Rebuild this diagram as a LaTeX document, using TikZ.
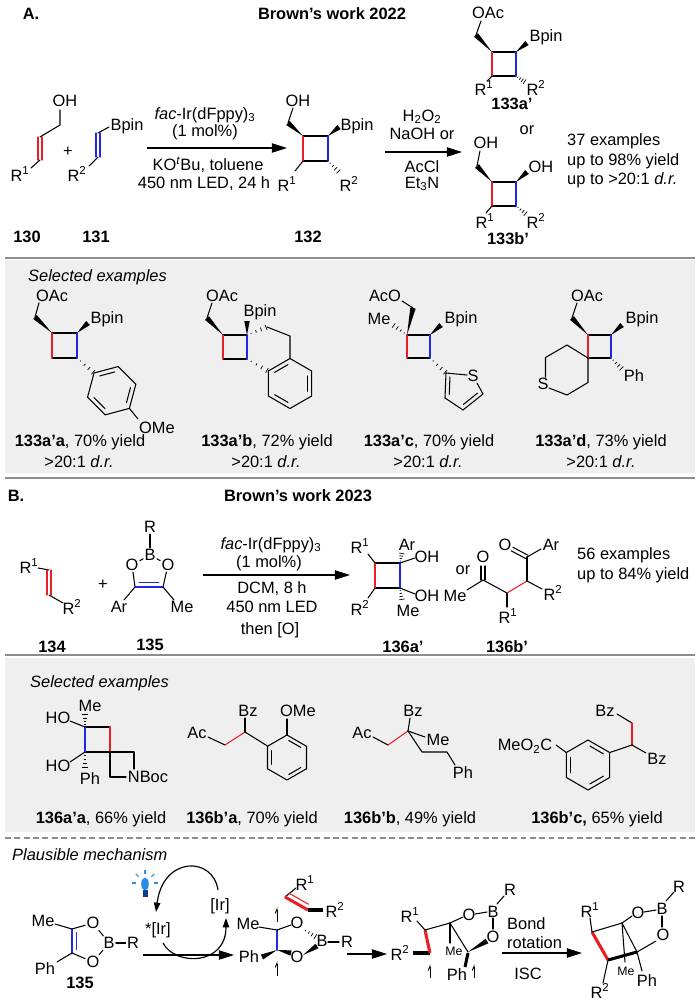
\documentclass[tikz,border=0pt]{standalone}
\usepackage{fontspec}
\setmainfont{Liberation Sans}
\usetikzlibrary{arrows.meta,calc,positioning}
\definecolor{bondred}{RGB}{235,30,35}
\definecolor{bondblue}{RGB}{30,40,230}
\definecolor{panelgray}{RGB}{239,239,239}
\definecolor{rulegray}{RGB}{140,140,140}
\definecolor{bulbblue}{RGB}{40,140,230}
\definecolor{bulbdark}{RGB}{20,60,140}
\newcommand{\Rs}[1]{R\textsuperscript{#1}}
% wedge, narrow at #1, wide at #2
\newcommand{\wdg}[2]{\fill #1 -- ($#2!2.3pt!90:#1$) -- ($#2!2.3pt!-90:#1$) -- cycle;}
% hashed wedge, narrow at #1, wide at #2
\newcommand{\hsh}[2]{\foreach \hf in {0.2,0.45,0.7,0.95}{%
  \pgfmathsetmacro{\hw}{\hf*2.4}
  \path ($#1!\hf!#2$) coordinate (hp);
  \draw[line width=0.6pt] ($(hp)!\hw pt!90:#1$) -- ($(hp)!\hw pt!-90:#1$);}}
% centred double bond
\newcommand{\dbc}[3][black]{\draw[bond,#1] ($#2!1.7pt!90:#3$) -- ($#3!1.7pt!-90:#2$);
  \draw[bond,#1] ($#2!1.7pt!-90:#3$) -- ($#3!1.7pt!90:#2$);}
% double bond, inner line on the left of #2->#3
\newcommand{\dbi}[3][black]{\draw[bond,#1] #2 -- #3;
  \path ($#2!0.15!#3$) coordinate (da) ($#3!0.15!#2$) coordinate (db);
  \draw[bond,#1] ($(da)!3.5pt!90:(db)$) -- ($(db)!3.5pt!-90:(da)$);}
% benzene: centre x, centre y, first angle, radius
\newcommand{\benz}[4]{%
  \draw[bond] ($(#1,#2)+(#3:#4)$) \foreach \k in {1,...,5}{ -- ($(#1,#2)+(#3+60*\k:#4)$)} -- cycle;
  \foreach \k in {0,2,4}{\draw[bond] ($(#1,#2)+(#3+60*\k+6:0.76*#4)$) -- ($(#1,#2)+(#3+60*\k+54:0.76*#4)$);}}
% cyclobutane: TL x,y, side, left colour, right colour
\newcommand{\cbut}[5]{%
  \draw[bond] (#1,#2) -- ++(#3,0) (#1,#2+#3) -- ++(#3,0);
  \draw[bond,#4] (#1,#2) -- ++(0,#3);
  \draw[bond,#5] (#1+#3,#2) -- ++(0,#3);}

\begin{document}
\begin{tikzpicture}[x=0.03cm,y=-0.03cm,
  font=\fontsize{14}{16}\selectfont,
  bond/.style={line width=0.9pt,line cap=round,line join=round},
  rbond/.style={bond,draw=bondred},
  bbond/.style={bond,draw=bondblue},
  heavy/.style={line width=2.6pt},
  atm/.style={inner sep=1pt},
  lbl/.style={font=\fontsize{14}{16}\selectfont\bfseries},
  small/.style={inner sep=1pt,font=\fontsize{10.5}{12}\selectfont},
  rxn/.style={line width=1pt,-{Triangle[length=13pt,width=8pt]}},
  cyc/.style={line width=1pt,-{Triangle[length=8pt,width=5.5pt]}},
  rad/.style={line width=0.8pt,-{Straight Barb[harpoon,length=3.5pt,width=3pt]}},
  cond/.style={align=center,inner sep=0pt},
  summ/.style={anchor=west,inner sep=0pt}]
\useasboundingbox (0,0) rectangle (700,1002);
\fill[white] (0,0) rectangle (700,1002);

% panel backgrounds
\fill[panelgray] (5,260) rectangle (695,473);
\fill[panelgray] (5,658) rectangle (695,832);
\draw[rulegray,line width=1.6pt] (5,258) -- (695,258) (5,478) -- (695,478) (5,655) -- (695,655);
\draw[rulegray,line width=1.2pt,dash pattern=on 5pt off 3pt] (5,838) -- (695,838);

% ---------- A ----------
\node[lbl] (headA) at (31,14) {A.};
\node[lbl] (titleA) at (332,14) {Brown’s work 2022};

% 130
\node[atm] (oh130) at (65,101) {OH};
\node[atm] (r130) at (20,174) {\Rs{1}};
\draw[bond] (60,110) -- (60,125) -- (40,137);
\dbc[bondred]{(40,137)}{(40,160)}
\draw[bond] (40,160) -- (31,168);
\node[lbl] (n130) at (27,237) {130};

% 131
\node (plus1) at (68,152) {+};
\node[atm] (bpin131) at (127,126) {Bpin};
\node[atm] (r131) at (77,174) {\Rs{2}};
\draw[bond] (109,127) -- (98,133);
\dbc[bondblue]{(98,133)}{(98,157)}
\draw[bond] (98,157) -- (89,166);
\node[lbl] (n131) at (96,237) {131};

% arrow 1
\coordinate (a1s) at (147,148);
\coordinate (a1e) at (287,148);
\draw[rxn] (a1s) -- (a1e);
\node[cond] (c1a) at (205,115) {\textit{fac}-Ir(dFppy)\textsubscript{3}};
\node[cond] (c1b) at (205,132) {(1 mol\%)};
\node[cond] (c1c) at (208,165) {KO\textsuperscript{\textit{t}}Bu, toluene};
\node[cond] (c1d) at (204,184) {450 nm LED, 24 h};

% 132
\cbut{303}{136}{25}{bondred}{bondblue}
\wdg{(303,136)}{(288,123)}
\draw[bond] (288,123) -- (293,108);
\node[atm] (oh132) at (298,101) {OH};
\wdg{(328,136)}{(339,127)}
\node[atm] (bpin132) at (357,126) {Bpin};
\draw[bond] (303,161) -- (295,171);
\node[atm] (r132a) at (287,184) {\Rs{1}};
\hsh{(328,161)}{(339,172)}
\node[atm] (r132b) at (349,184) {\Rs{2}};
\node[lbl] (n132) at (308,237) {132};

% arrow 2
\draw[rxn] (385,152) -- (462,152);
\node[cond] (c2a) at (422,117) {H\textsubscript{2}O\textsubscript{2}};
\node[cond] (c2b) at (422,134) {NaOH or};
\node[cond] (c2c) at (422,167) {AcCl};
\node[cond] (c2d) at (422,184) {Et\textsubscript{3}N};

% 133a'
\node[atm] (oac133a) at (488,13) {OAc};
\draw[bond] (481,21) -- (476,35);
\wdg{(492,52)}{(476,35)}
\cbut{492}{52}{24}{bondred}{bondblue}
\wdg{(516,52)}{(527,43)}
\node[atm] (bpin133a) at (546,37) {Bpin};
\draw[bond] (492,76) -- (487,81);
\node[atm] (r133a) at (484,88) {\Rs{1}};
\hsh{(516,76)}{(525,82)}
\node[atm] (r133a2) at (536,88) {\Rs{2}};
\node[lbl] (n133a) at (512,104) {133a'};
\node (or1) at (527,130) {or};

% 133b'
\node[atm] (oh133b) at (486,143) {OH};
\draw[bond] (480,151) -- (477,166);
\wdg{(492,182)}{(477,166)}
\cbut{492}{182}{24}{bondred}{bondblue}
\wdg{(516,182)}{(527,172)}
\node[atm] (oh133b2) at (541,167) {OH};
\draw[bond] (492,206) -- (486,213);
\node[atm] (r133b) at (485,221) {\Rs{1}};
\hsh{(516,206)}{(526,214)}
\node[atm] (r133b2) at (536,221) {\Rs{2}};
\node[lbl] (n133b) at (508,239) {133b'};

\node[summ] (sumA1) at (567,141) {37 examples};
\node[summ] (sumA2) at (567,161) {up to 98\% yield};
\node[summ] (sumA3) at (567,180) {up to >20:1 \textit{d.r.}};

% selected examples A
\node[summ] (selA) at (28,277) {\textit{Selected examples}};

% 133a'a
\node[atm] (oac1) at (52,296) {OAc};
\draw[bond] (39,303) -- (35,317);
\wdg{(52,333)}{(35,317)}
\cbut{52}{333}{25}{bondred}{bondblue}
\wdg{(77,333)}{(88,323)}
\node[atm] (bpin1) at (107,319) {Bpin};
\hsh{(77,358)}{(94,373)}
\benz{111.7}{390.7}{225}{25}
\draw[bond] (129.4,408.4) -- (138,419);
\node[atm] (ome1) at (157,428) {OMe};
\node[atm] (ex1) at (80,442) {\textbf{133a'a}, 70\% yield};
\node[atm] (dr1) at (79,462) {>20:1 \textit{d.r.}};

% 133a'b
\node[atm] (oac2) at (222,296) {OAc};
\draw[bond] (212,303) -- (207,318);
\wdg{(223,335)}{(207,318)}
\cbut{223}{335}{24}{bondred}{bondblue}
\wdg{(247,335)}{(247,321)}
\node[atm] (bpin2) at (260,312) {Bpin};
\hsh{(247,335)}{(267,327)}
\draw[bond] (267,327) -- (290,336) -- (290,358.5);
\hsh{(247,359)}{(268,371)}
\benz{290}{383.5}{-30}{25}
\node[atm] (ex2) at (267,442) {\textbf{133a'b}, 72\% yield};
\node[atm] (dr2) at (266,462) {>20:1 \textit{d.r.}};

% 133a'c
\node[atm] (oac3) at (385,296) {AcO};
\draw[bond] (402,301) -- (413,308);
\wdg{(407,335)}{(413,308)}
\node[atm] (me3) at (379,319) {Me};
\hsh{(407,335)}{(393,325)}
\cbut{407}{335}{23}{bondred}{bondblue}
\wdg{(430,335)}{(441,325)}
\node[atm] (bpin3) at (461,319) {Bpin};
\hsh{(430,358)}{(446,373)}
\node[atm] (s3) at (473,376) {S};
\draw[bond] (446,373) -- (467,375);
\draw[bond] (477,383) -- (483,394);
\draw[bond] (463,410) -- (445,398);
\dbi{(446,373)}{(445,398)}
\dbi{(463,410)}{(483,394)}
\node[atm] (ex3) at (429,442) {\textbf{133a'c}, 70\% yield};
\node[atm] (dr3) at (428,462) {>20:1 \textit{d.r.}};

% 133a'd
\node[atm] (oac4) at (587,296) {OAc};
\draw[bond] (577,303) -- (572,318);
\wdg{(588,335)}{(572,318)}
\cbut{588}{335}{23}{bondred}{bondblue}
\wdg{(611,335)}{(622,325)}
\node[atm] (bpin4) at (642,319) {Bpin};
\hsh{(611,358)}{(622,369)}
\node[atm] (ph4) at (634,376) {Ph};
\node[atm] (s4) at (543,384) {S};
\draw[bond] (588,358) -- (567,345) -- (545.5,357.5) -- (545.5,377);
\draw[bond] (549,388) -- (567,395) -- (588,382.5) -- (588,358);
\node[atm] (ex4) at (601,442) {\textbf{133a'd}, 73\% yield};
\node[atm] (dr4) at (601,462) {>20:1 \textit{d.r.}};

% ---------- B ----------
\node[lbl] (headB) at (16,496) {B.};
\node[lbl] (titleB) at (298,496) {Brown’s work 2023};

% 134
\node[atm] (r134a) at (29,566) {\Rs{1}};
\draw[bond] (38,568) -- (49,570);
\dbc[bondred]{(49,570)}{(49,595)}
\draw[bond] (49,595) -- (63,603);
\node[atm] (r134b) at (72,607) {\Rs{2}};
\node[lbl] (n134) at (52,647) {134};
\node (plus2) at (103,585) {+};

% 135
\node[atm] (r135) at (150,527) {R};
\node[atm] (b135) at (150,555) {B};
\node[atm] (o135a) at (132,565) {O};
\node[atm] (o135b) at (168,565) {O};
\draw[bond] (r135) -- (b135);
\draw[bond] (b135) -- (o135a);
\draw[bond] (b135) -- (o135b);
\draw[bond] (o135a) -- (135,587);
\draw[bond] (o135b) -- (163,587);
\dbi[bondblue]{(135,587)}{(163,587)}
\draw[bond] (135,587) -- (124,600);
\node[atm] (ar135) at (119,607) {Ar};
\draw[bond] (163,587) -- (174,600);
\node[atm] (me135) at (182,607) {Me};
\node[lbl] (n135) at (150,645) {135};

% arrow 3
\draw[rxn] (203,575) -- (350,575);
\node[cond] (c3a) at (271,545) {\textit{fac}-Ir(dFppy)\textsubscript{3}};
\node[cond] (c3b) at (269,563) {(1 mol\%)};
\node[cond] (c3c) at (272,589) {DCM, 8 h};
\node[cond] (c3d) at (272,607) {450 nm LED};
\node[cond] (c3e) at (270,630) {then [O]};

% 136a'
\cbut{375}{563}{25}{bondred}{bondblue}
\node[atm] (r136a) at (360,546) {\Rs{1}};
\draw[bond] (375,563) -- (368,554);
\node[atm] (r136b) at (360,608) {\Rs{2}};
\draw[bond] (375,588) -- (368,598);
\node[atm] (ar136) at (407,545) {Ar};
\hsh{(400,563)}{(402,553)}
\draw[bond] (400,563) -- (415,558);
\node[atm] (oh136a) at (427,557) {OH};
\hsh{(400,588)}{(402,600)}
\node[atm] (me136) at (408,611) {Me};
\draw[bond] (400,588) -- (415,594);
\node[atm] (oh136b) at (427,596) {OH};
\node (or2) at (463,570) {or};

% 136b'
\node[atm] (me136b) at (455,596) {Me};
\draw[bond] (467,590) -- (483,580);
\dbc{(483,580)}{(483,566)}
\node[atm] (o136a) at (483,557) {O};
\draw[bond] (483,580) -- (507,593);
\draw[bond] (507,593) -- (507,607);
\node[atm] (r136c) at (508,616) {\Rs{1}};
\draw[rbond] (507,593) -- (527,581);
\draw[bond] (527,581) -- (527,557);
\dbc{(527,557)}{(512,549)}
\node[atm] (o136b) at (505,545) {O};
\draw[bond] (527,557) -- (541,549);
\node[atm] (ar136b) at (551,545) {Ar};
\draw[bond] (527,581) -- (542,589);
\node[atm] (r136d) at (553,593) {\Rs{2}};
\node[lbl] (n136a) at (403,647) {136a'};
\node[lbl] (n136b) at (507,647) {136b'};

\node[summ] (sumB1) at (577,555) {56 examples};
\node[summ] (sumB2) at (577,575) {up to 84\% yield};

% selected examples B
\node[summ] (selB) at (30,683) {\textit{Selected examples}};

% 136a'a
\cbut{85}{727}{25}{bondblue}{bondred}
\node[atm] (me5) at (90,706) {Me};
\hsh{(85,727)}{(85,714)}
\node[atm] (ho5a) at (58,718) {HO};
\draw[bond] (70,721) -- (85,727);
\node[atm] (ho5b) at (58,766) {HO};
\draw[bond] (85,752) -- (70,762);
\hsh{(85,752)}{(85,768)}
\node[atm] (ph5) at (90,779) {Ph};
\draw[bond] (110,752) -- (134,752) -- (134,769);
\draw[bond] (110,752) -- (110,777) -- (126,777);
\node[atm] (nboc5) at (148,777) {NBoc};
\node[atm] (ex5) at (101,819) {\textbf{136a'a}, 66\% yield};

% 136b'a
\node[atm] (ac6) at (197,733) {Ac};
\draw[bond] (208,737) -- (225,745);
\draw[rbond] (225,745) -- (245,732);
\draw[bond] (245,732) -- (245,718);
\node[atm] (bz6) at (248,711) {Bz};
\draw[bond] (245,732) -- (267.5,746);
\benz{287}{757.5}{-90}{22.5}
\draw[bond] (287,735) -- (287,719);
\node[atm] (ome6) at (298,711) {OMe};
\node[atm] (ex6) at (252,819) {\textbf{136b'a}, 70\% yield};

% 136b'b
\node[atm] (ac7) at (362,733) {Ac};
\draw[bond] (373,737) -- (388,745);
\draw[rbond] (388,745) -- (408,731);
\draw[bond] (408,731) -- (410,718);
\node[atm] (bz7) at (413,711) {Bz};
\draw[bond] (408,731) -- (425,737);
\node[atm] (me7) at (438,740) {Me};
\draw[bond] (408,731) -- (422,752) -- (447,752) -- (455,765);
\node[atm] (ph7) at (463,773) {Ph};
\node[atm] (ex7) at (410,819) {\textbf{136b'b}, 49\% yield};

% 136b'c
\node[atm] (bz8a) at (605,711) {Bz};
\draw[bond] (617,714) -- (632,723);
\draw[rbond] (632,723) -- (632,745);
\draw[bond] (632,745) -- (646,753);
\node[atm] (bz8b) at (657,759) {Bz};
\draw[bond] (632,745) -- (609.7,752.5);
\benz{588}{765}{-90}{25}
\draw[bond] (566.3,752.5) -- (556,745);
\node[atm] (ester8) at (525,746) {MeO\textsubscript{2}C};
\node[atm] (ex8) at (597,819) {\textbf{136b'c,} 65\% yield};

% ---------- mechanism ----------
\node[summ] (mech) at (12,855) {\textit{Plausible mechanism}};

% 135
\node[atm] (me9) at (43,921) {Me};
\draw[bond] (55,924) -- (72,929);
\dbi[bondblue]{(72,929)}{(72,953)}
\node[atm] (o9a) at (93,923) {O};
\node[atm] (o9b) at (93,962) {O};
\node[atm] (b9) at (109,943) {B};
\node[atm] (r9) at (133,943) {R};
\draw[bond] (72,929) -- (o9a);
\draw[bond] (72,953) -- (o9b);
\draw[bond] (o9a) -- (b9);
\draw[bond] (o9b) -- (b9);
\draw[bond] (b9) -- (r9);
\draw[bond] (72,953) -- (57,962);
\node[atm] (ph9) at (45,969) {Ph};
\node[lbl] (n135m) at (80,983) {135};

% light bulb
\fill[bulbblue] (145,884) ellipse (3.8 and 6.5);
\fill[bulbdark] (142.5,890) rectangle (147.5,897);
\foreach \a in {180,225,270,315,0}
  \draw[bulbblue,line width=0.9pt] ($(145,883)+(\a:9)$) -- ($(145,883)+(\a:13)$);

% Ir cycle
\node[atm] (irs) at (158,930) {*[Ir]};
\node[atm] (ir) at (220,906) {[Ir]};
\draw[cyc] (218,890) .. controls (213,856) and (163,856) .. (156,912);
\draw[cyc] (163,943) .. controls (175,966) and (226,966) .. (226,918);
\draw[rxn] (143,955) -- (234,955);

% radical intermediate
\node[atm] (me10) at (248,924) {Me};
\draw[bond] (259,927) -- (277,930);
\draw[rad] (277,922) -- (277,907);
\draw[bbond] (277,930) -- (277,950);
\draw[bond] (277,930) -- (291,925);
\node[atm] (o10a) at (297,923) {O};
\hsh{(303,929)}{(316,937)}
\node[atm] (b10) at (322,941) {B};
\draw[bond] (328,942) -- (339,942);
\node[atm] (r10) at (347,942) {R};
\wdg{(277,950)}{(291,953)}
\node[atm] (o10b) at (297,957) {O};
\wdg{(303,955)}{(317,946)}
\wdg{(277,950)}{(262,957)}
\node[atm] (ph10) at (249,957) {Ph};
\draw[rad] (277,976) -- (277,961);
\node[atm] (r10a) at (305,883) {\Rs{1}};
\draw[bond] (296,888) -- (285,897);
\draw[heavy,bondred] (285,897) -- (308,910);
\draw[bond,bondred,shorten <=2pt,shorten >=2pt] ($(285,897)!4.5pt!90:(308,910)$) -- ($(308,910)!4.5pt!-90:(285,897)$);
\draw[heavy] (308,910) -- (323,910);
\node[atm] (r10b) at (335,910) {\Rs{2}};

\draw[rxn] (347,954) -- (387,954);

% biradical
\node[atm] (r11b) at (400,953) {\Rs{2}};
\draw[heavy] (413,953) -- (430,953);
\draw[heavy,bondred] (430,953) -- (425,930);
\node[atm] (r11a) at (410,915) {\Rs{1}};
\draw[bond] (417,921) -- (425,930);
\draw[bond] (425,930) -- (450,923);
\draw[bond] (450,923) -- (450,943);
\node[small] (me11) at (454,951) {Me};
\draw[bond] (450,923) -- (468,952);
\draw[bond] (450,923) -- (463,917);
\node[atm] (o11a) at (469,915) {O};
\draw[bond] (475,914) -- (487,912);
\node[atm] (b11) at (493,912) {B};
\draw[bond] (497,904) -- (504,896);
\node[atm] (r11) at (510,890) {R};
\draw[bond] (493,918) -- (493,929);
\node[atm] (o11b) at (493,937) {O};
\wdg{(468,952)}{(487,941)}
\draw[heavy] (468,953) -- (465,967);
\node[atm] (ph11) at (457,975) {Ph};
\draw[rad] (430,978) -- (430,964);
\draw[rad] (474,978) -- (474,964);

\draw[rxn] (502,953) -- (582,953);
\node[anchor=west,align=left,inner sep=0pt] (rot) at (507,933) {Bond\\rotation};
\node[atm] (isc) at (528,974) {ISC};

% product
\node[atm] (r12a) at (590,910) {\Rs{1}};
\draw[bond] (590,918) -- (592,932);
\draw[heavy,bondred] (592,932) -- (608,960);
\draw[bond] (608,960) -- (603,983);
\node[atm] (r12b) at (600,991) {\Rs{2}};
\draw[bond] (592,932) -- (622,923);
\draw[heavy] (608,960) -- (637,952);
\draw[bond] (622,923) -- (637,952);
\draw[bond] (622,923) -- (625,962);
\node[small] (me12) at (626,971) {Me};
\draw[bond] (622,923) -- (632,916);
\node[atm] (o12a) at (638,913) {O};
\draw[bond] (644,912) -- (656,910);
\node[atm] (b12) at (662,909) {B};
\draw[bond] (666,901) -- (674,892);
\node[atm] (r12) at (679,887) {R};
\draw[bond] (662,916) -- (662,927);
\node[atm] (o12b) at (663,935) {O};
\draw[bond] (656,941) -- (637,952);
\draw[bond] (637,952) -- (642,971);
\node[atm] (ph12) at (647,981) {Ph};
\end{tikzpicture}
\end{document}
